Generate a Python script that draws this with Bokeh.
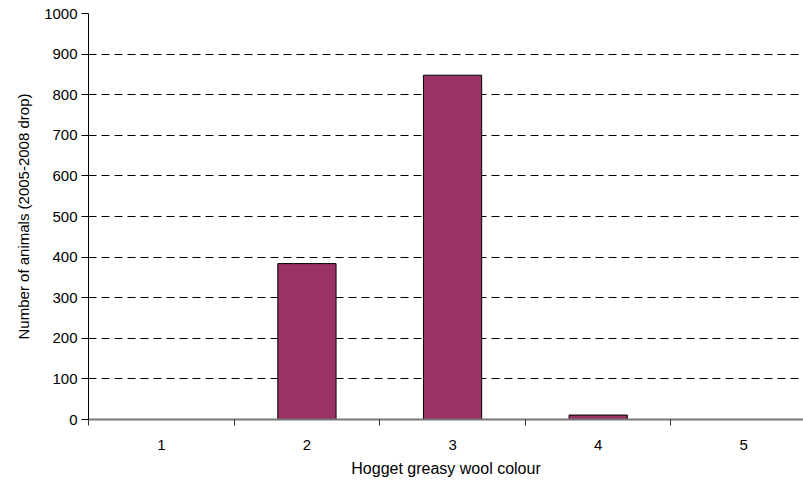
from bokeh.plotting import figure
from bokeh.models import FixedTicker, Range1d
from bokeh.embed import file_html
from bokeh.resources import INLINE

categories = [1, 2, 3, 4, 5]
counts = [0, 384, 848, 11, 0]
y_ticks = [0, 100, 200, 300, 400, 500, 600, 700, 800, 900, 1000]

p = figure(width=803, height=481, output_backend="svg", toolbar_location=None,
           x_range=Range1d(0.5, 5.41), y_range=Range1d(0, 1000),
           min_border_left=88, min_border_right=0, min_border_top=13, min_border_bottom=62)
p.outline_line_color = None

p.vbar(x=categories, top=counts, width=0.4, fill_color="#993366", line_color="black", line_width=1)

font = "Liberation Sans"
p.xaxis.ticker = FixedTicker(ticks=categories, minor_ticks=[0.5, 1.5, 2.5, 3.5, 4.5])
p.xaxis.major_tick_out = 0
p.xaxis.major_tick_in = 0
p.xaxis.minor_tick_out = 6
p.xaxis.minor_tick_in = 0
p.xaxis.axis_line_color = "#777777"
p.xaxis.axis_line_width = 2
p.xaxis.minor_tick_line_color = "#333333"
p.xaxis.axis_label = "Hogget greasy wool colour"
p.xaxis.major_label_standoff = 14

p.yaxis.ticker = FixedTicker(ticks=y_ticks)
p.yaxis.minor_tick_line_color = None
p.yaxis.major_tick_out = 7
p.yaxis.major_tick_in = 0
p.yaxis.axis_line_color = "black"
p.yaxis.axis_label = "Number of animals (2005-2008 drop)"
p.yaxis.major_label_standoff = 4

for ax in (p.xaxis, p.yaxis):
    ax.major_label_text_font = font
    ax.major_label_text_font_size = "15px"
    ax.major_label_text_color = "black"
    ax.axis_label_text_font = font
    ax.axis_label_text_font_style = "normal"
    ax.axis_label_text_color = "black"
p.xaxis.axis_label_text_font_size = "16px"
p.yaxis.axis_label_text_font_size = "15px"
p.xaxis.axis_label_standoff = 7
p.yaxis.axis_label_standoff = 9

p.xgrid.grid_line_color = None
p.ygrid.ticker = FixedTicker(ticks=y_ticks[1:])
p.ygrid.grid_line_color = "black"
p.ygrid.grid_line_dash = "8 5"
p.ygrid.grid_line_width = 1

open("out.html", "w").write(file_html(p, INLINE))
